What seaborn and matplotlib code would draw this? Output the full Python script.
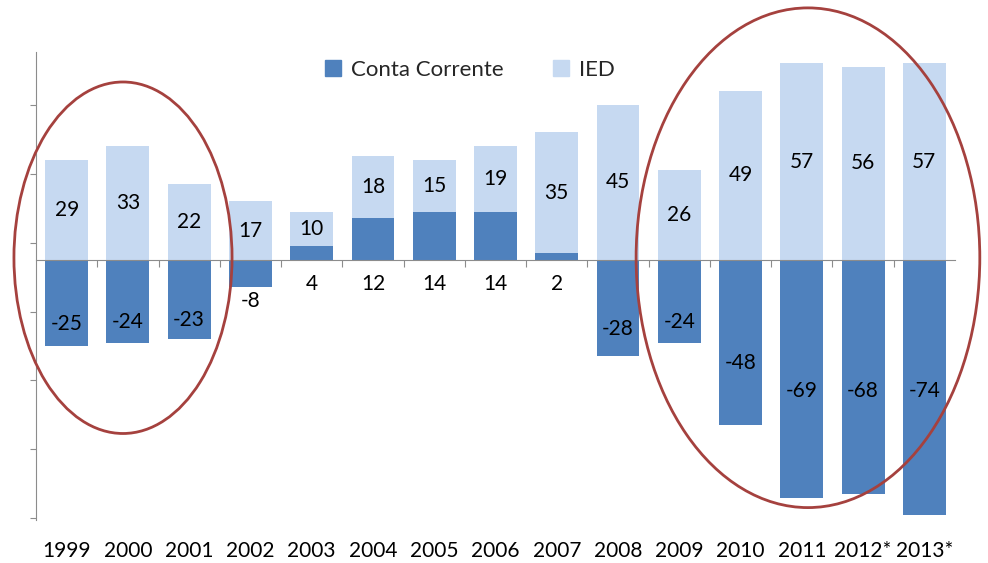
import matplotlib
matplotlib.use("Agg")
import matplotlib.pyplot as plt
import matplotlib.ticker as mticker
from matplotlib.patches import Ellipse, Patch
import numpy as np
import pandas as pd
import seaborn as sns

# data (bn)
years = ["1999", "2000", "2001", "2002", "2003", "2004", "2005", "2006",
         "2007", "2008", "2009", "2010", "2011", "2012*", "2013*"]
conta_corrente = [-25, -24, -23, -8, 4, 12, 14, 14, 2, -28, -24, -48, -69, -68, -74]
ied = [29, 33, 22, 17, 10, 18, 15, 19, 35, 45, 26, 49, 57, 56, 57]

DARK = "#4F81BD"
LIGHT = "#C6D9F1"
RING = "#A5413E"

sns.set_style("white")
plt.rcParams["font.family"] = ["Lato", "DejaVu Sans"]

df = pd.DataFrame({"ano": years, "cc": conta_corrente, "ied": ied})
df["cc_pos"] = df["cc"].clip(lower=0)
df["topo"] = df["cc_pos"] + df["ied"]

fig = plt.figure(figsize=(9.88, 5.63), dpi=100)
ax = fig.add_axes([36 / 988, 1 - 520 / 563, 919 / 988, 468 / 563])

# light bar = IED stacked on positive current account; dark bar drawn over it
sns.barplot(data=df, x="ano", y="topo", color=LIGHT, saturation=1,
            width=0.7, linewidth=0, ax=ax)
sns.barplot(data=df, x="ano", y="cc", color=DARK, saturation=1,
            width=0.7, linewidth=0, ax=ax)

ax.set_xlim(-0.5, len(years) - 0.5)
ax.set_ylim(-75.5, 60.3)
ax.set_xlabel("")
ax.set_ylabel("")

# axes look (Excel style)
for s in ["top", "right"]:
    ax.spines[s].set_visible(False)
ax.spines["left"].set_color("#8C8C8C")
ax.spines["bottom"].set_color("#8C8C8C")
ax.spines["bottom"].set_position(("data", 0))
ax.yaxis.set_major_locator(mticker.FixedLocator(np.arange(-75, 60, 20)))
ax.set_yticklabels([])
ax.tick_params(axis="y", direction="out", length=4, color="#8C8C8C", left=True)
ax.xaxis.set_major_locator(mticker.FixedLocator(np.arange(len(years) - 1) + 0.5))
ax.set_xticklabels([])
ax.tick_params(axis="x", direction="out", length=5, color="#8C8C8C", bottom=True)

# year labels below plot area
for i, yr in enumerate(years):
    ax.text(i, -0.066, yr, transform=ax.get_xaxis_transform(),
            ha="center", va="center", fontsize=15, color="black")

# value labels
for i, row in df.iterrows():
    ax.text(i, row["cc_pos"] + row["ied"] / 2, f"{row['ied']}",
            ha="center", va="center", fontsize=15, color="black")
    v = row["cc"]
    if v > 0:
        y = -7
    else:
        y = v / 2 - 6
        if y < v:          # short bar: label goes just below it
            y = v - 4
        y = max(y, -38)
    ax.text(i, y, f"{v}", ha="center", va="center", fontsize=15, color="black")

# highlight rings
ax.add_patch(Ellipse((0.92, 0.6), 3.56, 102, fill=False, edgecolor=RING,
                     linewidth=2, clip_on=False, zorder=5))
ax.add_patch(Ellipse((12.1, 0.6), 5.61, 145, fill=False, edgecolor=RING,
                     linewidth=2, clip_on=False, zorder=5))

handles = [Patch(color=DARK, label="Conta Corrente"), Patch(color=LIGHT, label="IED")]
fig.legend(handles=handles, loc="center", bbox_to_anchor=(470 / 988, 1 - 70 / 563),
           ncol=2, frameon=False, fontsize=16, handlelength=0.75, handleheight=0.75,
           handletextpad=0.45, columnspacing=2.2)

fig.savefig("out.png", dpi=100)
plt.close(fig)
